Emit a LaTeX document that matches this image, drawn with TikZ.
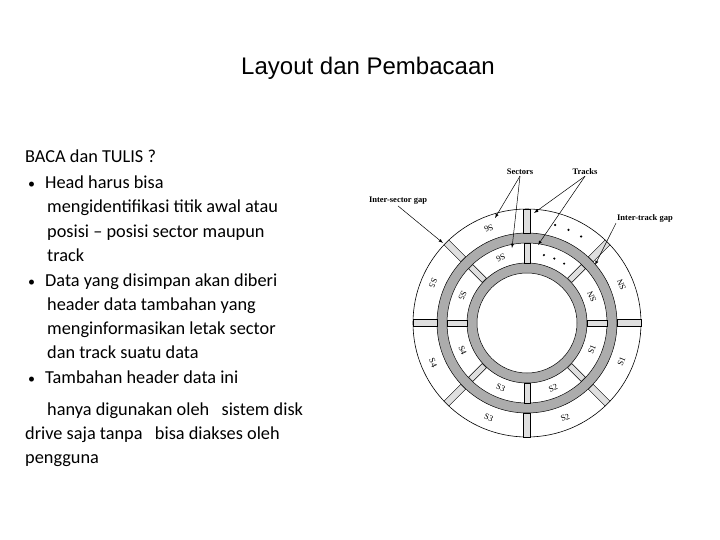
\documentclass[tikz,border=0pt]{standalone}
\usetikzlibrary{calc}
\usepackage{fontspec}
\setmainfont{Carlito}
\newfontfamily\arialf{Liberation Sans}
\newfontfamily\timesf{Liberation Serif}
\begin{document}
\begin{tikzpicture}[x=1pt,y=-1pt,
  body/.style={anchor=base west,inner sep=0pt,font=\fontsize{18.3}{20}\selectfont},
  bul/.style={anchor=base west,inner sep=0pt,font=\fontsize{14}{16}\selectfont},
  lab/.style={font=\timesf\fontsize{8.5}{9}\selectfont\bfseries,inner sep=1pt},
  slab/.style={font=\timesf\fontsize{8.5}{9}\selectfont,inner sep=0pt},
  arr/.style={-latex,line width=0.5pt}]
\useasboundingbox (0,0) rectangle (720,540);
\node[font=\arialf\fontsize{24}{28}\selectfont] (title) at (368,68) {Layout dan Pembacaan};
\node[body] (l1) at (25,163) {BACA dan TULIS ?};
\node[bul] (b1) at (28,189) {•};
\node[body] (l2) at (45,189) {Head harus bisa};
\node[body] (l3) at (47,213) {mengidentifikasi titik awal atau};
\node[body] (l4) at (47,237) {posisi – posisi sector maupun};
\node[body] (l5) at (47,261) {track};
\node[bul] (b2) at (28,286) {•};
\node[body] (l6) at (45,286) {Data yang disimpan akan diberi};
\node[body] (l7) at (47,310) {header data tambahan yang};
\node[body] (l8) at (47,334) {menginformasikan letak sector};
\node[body] (l9) at (47,358) {dan track suatu data};
\node[bul] (b3) at (28,383) {•};
\node[body] (l10) at (45,383) {Tambahan header data ini};
\node[body] (l11) at (47,415) {hanya digunakan oleh \ \ sistem disk};
\node[body] (l12) at (25,439) {drive saja tanpa \ \ bisa diakses oleh};
\node[body] (l13) at (25,463) {pengguna};
% disk
\coordinate (c) at (527,323);
\draw[line width=0.6pt] (c) circle (114);
\fill[gray!65] (c) circle (90);
\fill[white] (c) circle (80);
\fill[gray!65] (c) circle (60);
\fill[white] (c) circle (50);
\draw[line width=0.5pt] (c) circle (90) (c) circle (80) (c) circle (60) (c) circle (50);
\foreach \a in {90,45,0,-45,-90,-135,180,135}{
  \fill[gray!25,draw=black,line width=0.4pt,rotate around={\a:(c)}] ($(c)+(90.3,-3.5)$) rectangle ($(c)+(113.7,3.5)$);
  \fill[gray!25,draw=black,line width=0.4pt,rotate around={\a:(c)}] ($(c)+(60.3,-3)$) rectangle ($(c)+(79.7,3)$);
}
\foreach \a/\t in {112/S6,157/S5,-157/S4,-112/S3,-68/S2,-22/S1,22/SN}{
  \node[slab,rotate=\a+90] at ($(c)+(-\a:102)$) {\t};
  \node[slab,rotate=\a+90] at ($(c)+(-\a:70)$) {\t};
}
\foreach \a in {58,66,74}{\fill ($(c)+(-\a:102)$) circle (1.2);}
\foreach \a in {58,67,76}{\fill ($(c)+(-\a:70)$) circle (1.2);}
% labels
\node[lab] (sec) at (520,172) {Sectors};
\node[lab] (trk) at (585,172) {Tracks};
\node[lab] (isg) at (398,201) {Inter-sector gap};
\node[lab] (itg) at (645,218) {Inter-track gap};
\coordinate (s1) at (495,218); \coordinate (s2) at (512,248);
\coordinate (t1) at (534,213); \coordinate (t2) at (538,245);
\coordinate (g1) at (443,243); \coordinate (g2) at (595,265);
\draw[arr] (sec.south) -- (s1);
\draw[arr] (sec.south) -- (s2);
\draw[arr] (trk.south) -- (t1);
\draw[arr] (trk.south) -- (t2);
\draw[arr] (isg.south) -- (g1);
\draw[arr] (itg.south west) -- (g2);
\end{tikzpicture}
\end{document}
